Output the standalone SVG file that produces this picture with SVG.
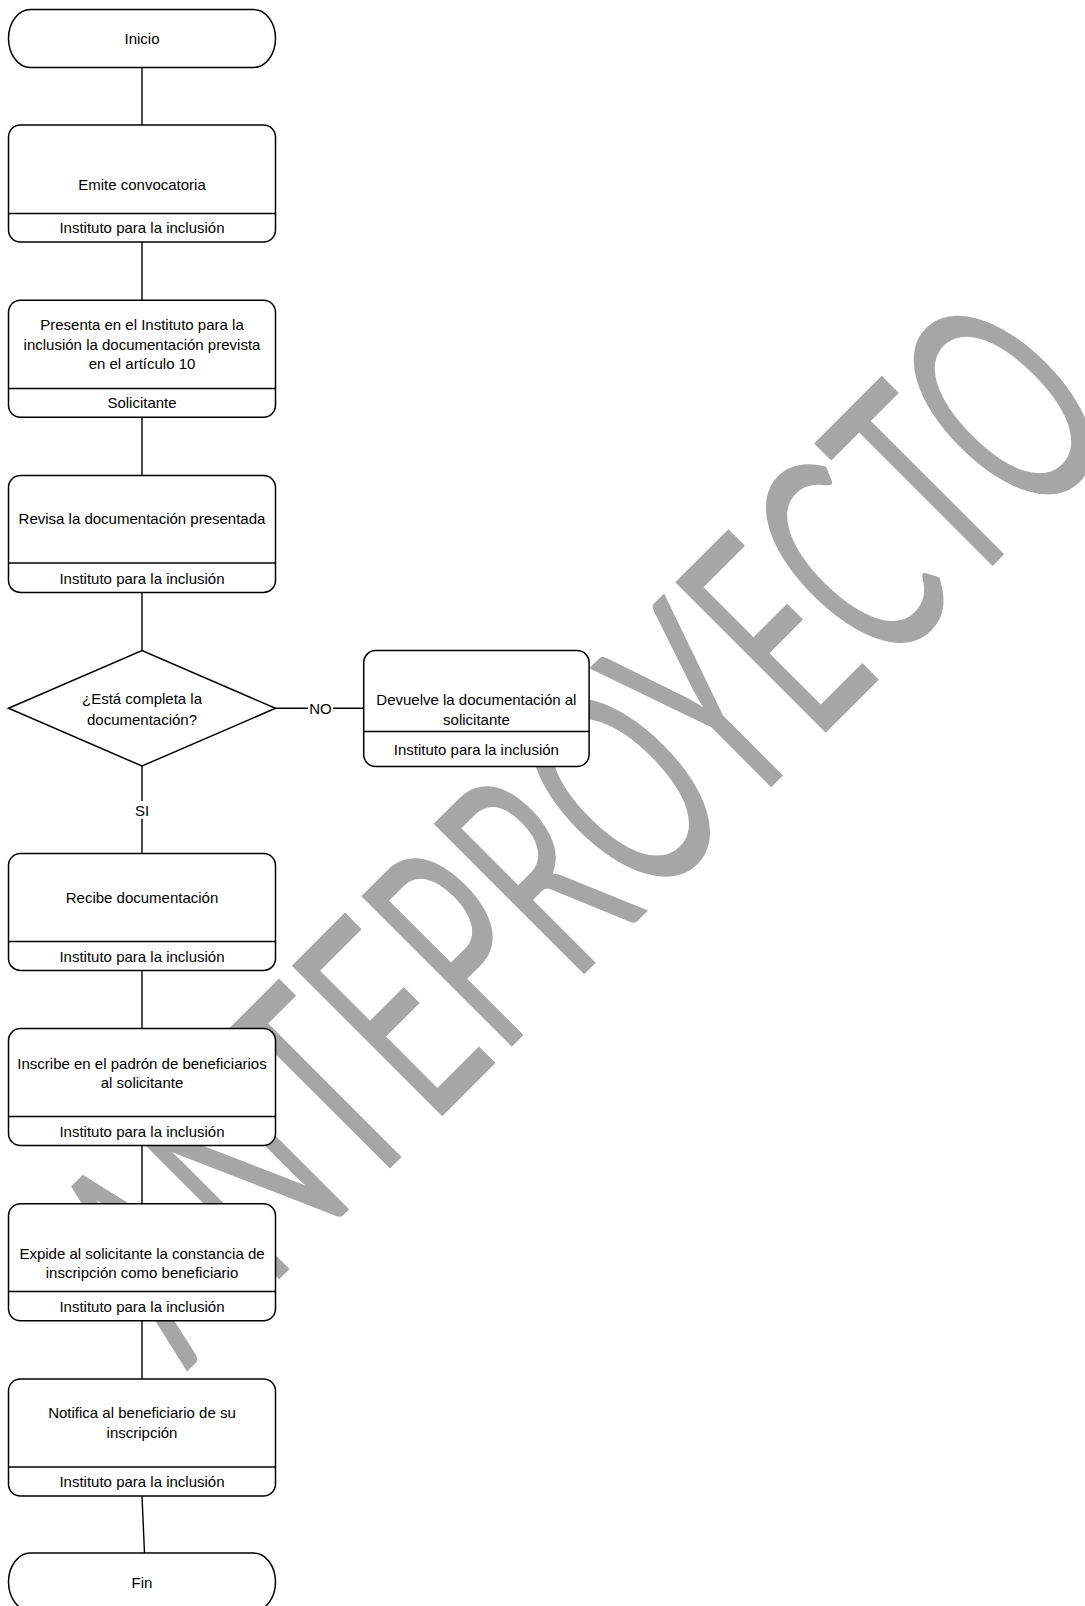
<svg xmlns="http://www.w3.org/2000/svg" width="1085" height="1606" viewBox="0 0 1085 1606">
<style>
.wm{font-family:Lato,"Liberation Sans",sans-serif;font-size:297px;fill:#a6a6a6}
.n rect,.n polygon{fill:#fff;stroke:#000;stroke-width:1.5}
.n line{stroke:#000;stroke-width:1.5}
.t{font-family:"Liberation Sans",Arial,sans-serif;font-size:15px;fill:#000;text-anchor:middle;dominant-baseline:central}
.c line{stroke:#000;stroke-width:1.4;fill:none}
.bg{fill:#fff}
</style>
<rect width="1085" height="1606" fill="#fff"/>
<g id="watermark"><text class="wm" transform="translate(186.7,1371.8) rotate(-45)" textLength="1329" lengthAdjust="spacingAndGlyphs">ANTEPROYECTO</text></g>
<g id="connectors" class="c">
<line x1="142" y1="67.5" x2="142" y2="125"/>
<line x1="142" y1="242" x2="142" y2="300.2"/>
<line x1="142" y1="417.2" x2="142" y2="475.4"/>
<line x1="142" y1="592.4" x2="142" y2="650.6"/>
<line x1="275.5" y1="708.3" x2="363.7" y2="708.3"/>
<rect class="bg" x="308" y="700" width="25" height="17"/>
<text class="t" x="320.5" y="708.3">NO</text>
<line x1="142" y1="766" x2="142" y2="853.4"/>
<rect class="bg" x="132" y="801" width="20" height="18"/>
<text class="t" x="142" y="810">SI</text>
<line x1="142" y1="970.4" x2="142" y2="1028.6"/>
<line x1="142" y1="1145.6" x2="142" y2="1203.8"/>
<line x1="142" y1="1320.8" x2="142" y2="1379"/>
<line x1="142" y1="1496" x2="144.5" y2="1553"/>
</g>
<g id="inicio" class="n"><rect x="8.5" y="9.5" width="267" height="58" rx="22" ry="29"/><text class="t" x="142" y="38.5">Inicio</text></g>
<g id="emite" class="n"><rect x="8.5" y="125" width="267" height="117" rx="12"/><line x1="8.5" y1="213.5" x2="275.5" y2="213.5"/><text class="t" x="142" y="184.4">Emite convocatoria</text><text class="t" x="142" y="227.7">Instituto para la inclusión</text></g>
<g id="presenta" class="n"><rect x="8.5" y="300.2" width="267" height="117" rx="12"/><line x1="8.5" y1="388.5" x2="275.5" y2="388.5"/><text class="t" x="142" y="324.8">Presenta en el Instituto para la</text><text class="t" x="142" y="344.2">inclusión la documentación prevista</text><text class="t" x="142" y="363.7">en el artículo 10</text><text class="t" x="142" y="402.8">Solicitante</text></g>
<g id="revisa" class="n"><rect x="8.5" y="475.4" width="267" height="117" rx="12"/><line x1="8.5" y1="563" x2="275.5" y2="563"/><text class="t" x="142" y="518.4">Revisa la documentación presentada</text><text class="t" x="142" y="578">Instituto para la inclusión</text></g>
<g id="decision" class="n"><polygon points="8.5,708.3 142,650.6 275.5,708.3 142,766"/><text class="t" x="142" y="698.7">¿Está completa la</text><text class="t" x="142" y="719.2">documentación?</text></g>
<g id="devuelve" class="n"><rect x="363.7" y="650.6" width="225.4" height="116" rx="12"/><line x1="363.7" y1="731.5" x2="589.1" y2="731.5"/><text class="t" x="476.4" y="699.7">Devuelve la documentación al</text><text class="t" x="476.4" y="719.2">solicitante</text><text class="t" x="476.4" y="749">Instituto para la inclusión</text></g>
<g id="recibe" class="n"><rect x="8.5" y="853.4" width="267" height="117" rx="12"/><line x1="8.5" y1="941.5" x2="275.5" y2="941.5"/><text class="t" x="142" y="897.5">Recibe documentación</text><text class="t" x="142" y="956">Instituto para la inclusión</text></g>
<g id="inscribe" class="n"><rect x="8.5" y="1028.6" width="267" height="117" rx="12"/><line x1="8.5" y1="1116.5" x2="275.5" y2="1116.5"/><text class="t" x="142" y="1063.4">Inscribe en el padrón de beneficiarios</text><text class="t" x="142" y="1082.9">al solicitante</text><text class="t" x="142" y="1131">Instituto para la inclusión</text></g>
<g id="expide" class="n"><rect x="8.5" y="1203.8" width="267" height="117" rx="12"/><line x1="8.5" y1="1291.5" x2="275.5" y2="1291.5"/><text class="t" x="142" y="1253">Expide al solicitante la constancia de</text><text class="t" x="142" y="1272.4">inscripción como beneficiario</text><text class="t" x="142" y="1306">Instituto para la inclusión</text></g>
<g id="notifica" class="n"><rect x="8.5" y="1379" width="267" height="117" rx="12"/><line x1="8.5" y1="1467" x2="275.5" y2="1467"/><text class="t" x="142" y="1412.8">Notifica al beneficiario de su</text><text class="t" x="142" y="1432.3">inscripción</text><text class="t" x="142" y="1481.5">Instituto para la inclusión</text></g>
<g id="fin" class="n"><rect x="8.5" y="1553" width="267" height="58" rx="22" ry="29"/><text class="t" x="142" y="1582.5">Fin</text></g>
</svg>
